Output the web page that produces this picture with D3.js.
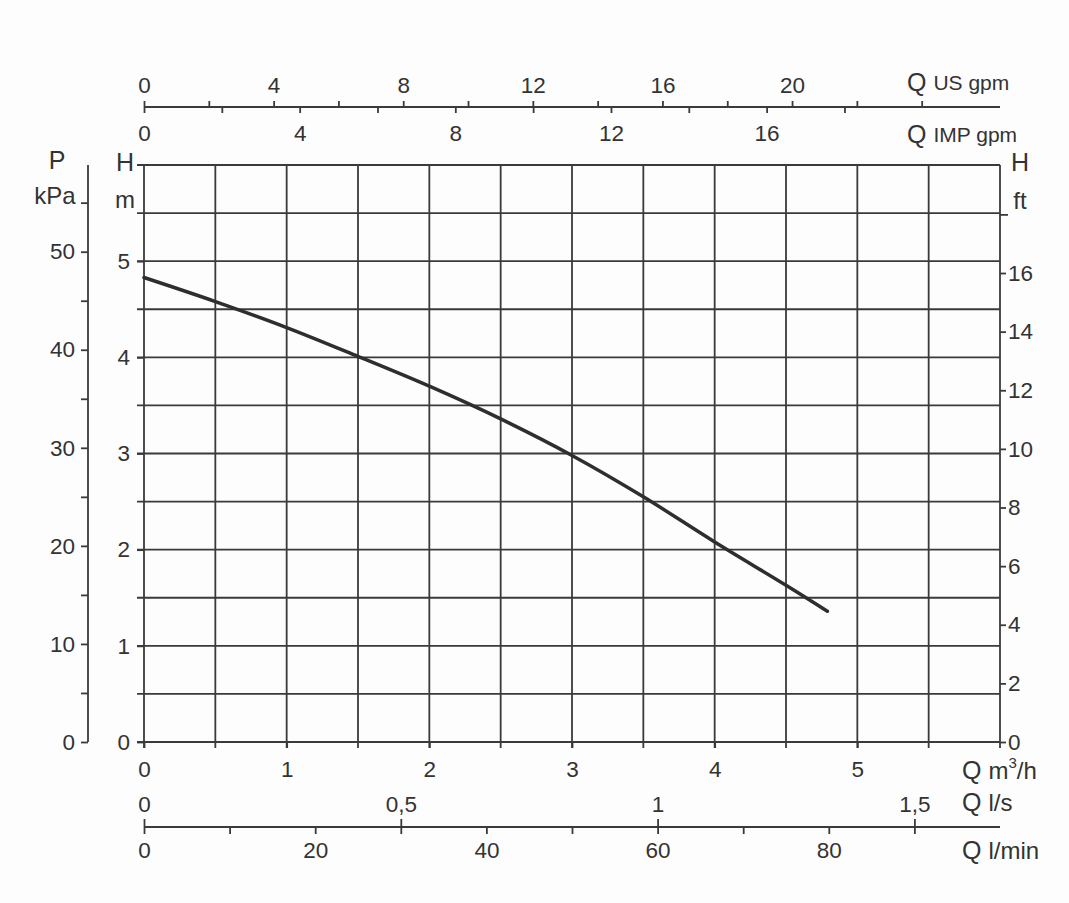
<!DOCTYPE html>
<html><head><meta charset="utf-8">
<script src="https://cdn.jsdelivr.net/npm/d3@7"></script>
<style>
html,body{margin:0;padding:0;background:#fdfdfd;}
svg{display:block;font-family:"Liberation Sans",Arial,Helvetica,sans-serif;}
.ax path,.ax line{stroke:#3a3a3a;stroke-width:1.8;}
.ax text{fill:#333;font-size:22.5px;}
</style></head><body>
<svg id="c" width="1069" height="903"></svg>
<script>
// ---- data ----
const flowM3h = [0, 0.5, 1.0, 1.5, 2.0, 2.5, 3.0, 3.5, 4.0, 4.5, 4.79];
const headM   = [4.83, 4.58, 4.31, 4.01, 3.70, 3.36, 2.98, 2.55, 2.08, 1.63, 1.36];
const m3hTicks = [0, 1, 2, 3, 4, 5];
const headTicks = [0, 1, 2, 3, 4, 5];
const kPaTicks = [0, 10, 20, 30, 40, 50];
const kPaMinor = [5, 15, 25, 35, 45, 55];
const ftTicks = [0, 2, 4, 6, 8, 10, 12, 14, 16];
const ftMinor = [18];
const usTicks = [0, 4, 8, 12, 16, 20];
const usMinor = [2, 6, 10, 14, 18, 22, 24];
const impTicks = [0, 4, 8, 12, 16];
const impMinor = [2, 6, 10, 14, 18];
const lsTicks = [0, 0.5, 1, 1.5];
const lsLabels = ["0", "0,5", "1", "1,5"];
const lminTicks = [0, 20, 40, 60, 80];
const lminMinor = [10, 30, 50, 70, 90];
const gridStep = [0,0.5,1,1.5,2,2.5,3,3.5,4,4.5,5,5.5,6];

// ---- layout ----
const L = 144, R = 1000, T = 165, B = 742;
const svg = d3.select("#c");
const x = d3.scaleLinear([0, 6], [L, R]);
const y = d3.scaleLinear([0, 6], [B, T]);
const xUS = d3.scaleLinear([0, 6 * 4.4029], [L, R]);
const xIMP = d3.scaleLinear([0, 6 * 3.6662], [L, R]);
const xLs = d3.scaleLinear([0, 6 / 3.6], [L, R]);
const xLmin = d3.scaleLinear([0, 100], [L, R]);
const yP = d3.scaleLinear([0, 6 * 9.80665], [B, T]);
const yFt = d3.scaleLinear([0, 6 / 0.3048], [B, T]);
const col = "#3a3a3a";

// grid
const g = svg.append("g");
g.selectAll("line.v").data(gridStep).join("line")
  .attr("x1", d => x(d)).attr("x2", d => x(d))
  .attr("y1", T).attr("y2", B + 6)
  .attr("stroke", col).attr("stroke-width", 1.8);
g.selectAll("line.h").data(gridStep).join("line")
  .attr("x1", L - 7).attr("x2", R)
  .attr("y1", d => y(d)).attr("y2", d => y(d))
  .attr("stroke", col).attr("stroke-width", 1.8);

function ax(axis, tx, ty) {
  const a = svg.append("g").attr("class", "ax").attr("transform", `translate(${tx},${ty})`).call(axis);
  a.select(".domain").remove();
  return a;
}
// H m (left of plot)
ax(d3.axisLeft(y).tickValues(headTicks).tickSize(7).tickPadding(7).tickFormat(d3.format("d")), L, 0);
// bottom m3/h labels
ax(d3.axisBottom(x).tickValues(m3hTicks).tickSize(6).tickPadding(13).tickFormat(d3.format("d")), 0, B);

// kPa axis
const pa = 88;
svg.append("line").attr("x1", pa).attr("x2", pa).attr("y1", T).attr("y2", B).attr("stroke", col).attr("stroke-width", 1.8);
ax(d3.axisLeft(yP).tickValues(kPaTicks).tickSize(7).tickPadding(6).tickFormat(d3.format("d")), pa, 0);
ax(d3.axisLeft(yP).tickValues(kPaMinor).tickSize(7).tickFormat(""), pa, 0);

// ft axis
ax(d3.axisRight(yFt).tickValues(ftTicks).tickSize(6).tickPadding(2).tickFormat(d3.format("d")), R, 0);
ax(d3.axisRight(yFt).tickValues(ftMinor).tickSize(8).tickFormat(""), R, 0);

// top gpm axis line
const gy = 107;
svg.append("line").attr("x1", L).attr("x2", R).attr("y1", gy).attr("y2", gy).attr("stroke", col).attr("stroke-width", 1.8);
ax(d3.axisTop(xUS).tickValues(usTicks).tickSize(6).tickPadding(8).tickFormat(d3.format("d")), 0, gy);
ax(d3.axisTop(xUS).tickValues(usMinor).tickSize(6).tickFormat(""), 0, gy);
ax(d3.axisBottom(xIMP).tickValues(impTicks).tickSize(6).tickPadding(12).tickFormat(d3.format("d")), 0, gy);
ax(d3.axisBottom(xIMP).tickValues(impMinor).tickSize(6).tickFormat(""), 0, gy);

// bottom l/s & l/min axis line
const ly = 827;
svg.append("line").attr("x1", L).attr("x2", R).attr("y1", ly).attr("y2", ly).attr("stroke", col).attr("stroke-width", 1.8);
ax(d3.axisTop(xLs).tickValues(lsTicks).tickSize(8).tickPadding(7).tickFormat((d, i) => lsLabels[i]), 0, ly);
ax(d3.axisBottom(xLmin).tickValues(lminTicks).tickSize(7).tickPadding(8).tickFormat(d3.format("d")), 0, ly);
ax(d3.axisBottom(xLmin).tickValues(lminMinor).tickSize(7).tickFormat(""), 0, ly);

// curve
const pts = flowM3h.map((q, i) => [q, headM[i]]);
svg.append("path").datum(pts)
  .attr("d", d3.line().x(d => x(d[0])).y(d => y(d[1])).curve(d3.curveCatmullRom))
  .attr("fill", "none").attr("stroke", "#2e2e2e").attr("stroke-width", 3.5).attr("stroke-linecap", "round");

// unit labels
function txt(s, px, py, anchor, size) {
  return svg.append("text").attr("x", px).attr("y", py).attr("text-anchor", anchor || "start")
    .attr("font-size", size || 21).attr("fill", "#333").attr("dominant-baseline", "central").text(s);
}
txt("P", 57, 160, "middle", 25);
txt("kPa", 55, 195, "middle", 24);
txt("H", 125, 162, "middle", 25);
txt("m", 125, 199, "middle", 24);
txt("H", 1020, 162, "middle", 25);
txt("ft", 1020, 200, "middle", 24);

function qlab(px, py) {
  const t = svg.append("text").attr("x", px).attr("y", py).attr("dominant-baseline", "central").attr("fill", "#333");
  t.append("tspan").attr("font-size", 25).text("Q ");
  return t;
}
qlab(907, 82).append("tspan").attr("font-size", 21).text("US gpm");
qlab(907, 134).append("tspan").attr("font-size", 21).text("IMP gpm");
const t3 = qlab(962, 770);
t3.append("tspan").attr("font-size", 24).text("m");
t3.append("tspan").attr("font-size", 15).attr("dy", -8).text("3");
t3.append("tspan").attr("font-size", 24).attr("dy", 8).text("/h");
qlab(962, 802).append("tspan").attr("font-size", 24).text("l/s");
qlab(962, 850).append("tspan").attr("font-size", 24).text("l/min");
</script>
</body></html>
